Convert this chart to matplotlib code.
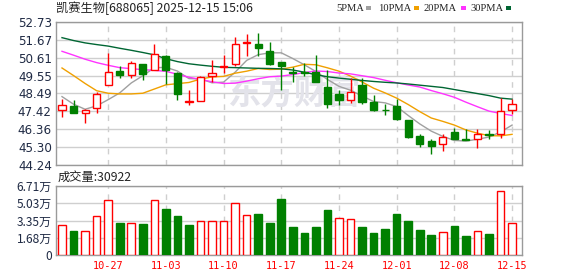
import numpy as np
import matplotlib.pyplot as plt
from matplotlib.patches import Rectangle

# ---------------------------------------------------------------
# 凯赛生物 daily K-line with MA lines and volume
# ---------------------------------------------------------------

dates = ['10-21', '10-22', '10-23', '10-24',
         '10-27', '10-28', '10-29', '10-30', '10-31',
         '11-03', '11-04', '11-05', '11-06', '11-07',
         '11-10', '11-11', '11-12', '11-13', '11-14',
         '11-17', '11-18', '11-19', '11-20', '11-21',
         '11-24', '11-25', '11-26', '11-27', '11-28',
         '12-01', '12-02', '12-03', '12-04', '12-05',
         '12-08', '12-09', '12-10', '12-11', '12-12',
         '12-15']

opens = [47.52, 47.74, 47.32, 47.60, 48.97, 49.82, 49.57, 50.24, 49.88, 50.74,
         49.69, 47.99, 48.02, 49.53, 50.06, 50.22, 51.50, 51.41, 51.02, 50.36,
         49.76, 49.75, 49.79, 48.87, 48.46, 48.08, 48.97, 47.96, 47.52, 47.72,
         46.91, 45.96, 45.66, 45.50, 46.19, 45.76, 45.76, 46.08, 46.06, 47.52]
highs = [48.14, 48.08, 47.56, 48.55, 50.86, 50.12, 50.42, 50.26, 51.43, 50.76,
         49.75, 48.67, 49.55, 50.46, 50.78, 51.81, 52.01, 52.05, 51.57, 50.36,
         50.08, 50.28, 50.80, 49.86, 48.70, 49.39, 49.39, 48.40, 47.88, 48.14,
         46.91, 46.11, 45.76, 46.06, 46.45, 46.35, 46.35, 46.31, 48.20, 48.18]
lows = [47.11, 47.32, 46.75, 47.34, 48.97, 49.43, 49.43, 49.29, 49.88, 49.07,
        48.08, 47.78, 48.02, 49.17, 49.73, 50.12, 50.72, 50.72, 50.20, 48.69,
        49.17, 49.53, 49.19, 47.64, 47.80, 47.94, 47.88, 47.44, 47.23, 46.89,
        45.82, 45.30, 44.90, 45.10, 45.78, 45.70, 45.26, 45.76, 45.86, 47.25]
closes = [47.78, 47.34, 47.48, 48.44, 49.77, 49.57, 50.28, 49.63, 50.82, 49.90,
          48.48, 48.04, 49.49, 49.69, 50.11, 51.41, 51.53, 51.21, 50.22, 50.14,
          49.69, 49.68, 49.19, 47.88, 48.08, 48.57, 47.98, 47.52, 47.48, 46.99,
          45.92, 45.50, 45.38, 45.92, 45.80, 45.70, 46.06, 46.04, 47.42, 47.84]

# volume in 万 (10k shares)
volumes = [2.92, 2.33, 2.33, 3.76, 5.32, 3.11, 3.11, 3.01, 5.32, 4.47,
           3.79, 2.92, 3.27, 3.27, 3.27, 5.03, 3.86, 4.02, 3.11, 5.45,
           2.72, 2.17, 2.72, 4.38, 3.57, 3.47, 2.72, 2.17, 2.53, 3.99,
           3.31, 2.43, 1.95, 2.24, 2.82, 1.85, 2.33, 2.04, 6.22, 3.09]

ma5 = [48.30, 47.85, 47.55, 47.75, 48.12, 48.52, 49.11, 49.54, 50.01, 50.04,
       49.82, 49.37, 49.35, 49.12, 49.16, 49.75, 50.45, 50.79, 50.90, 50.90,
       50.56, 50.19, 49.79, 49.32, 48.91, 48.68, 48.34, 48.01, 47.93, 47.71,
       47.18, 46.68, 46.25, 45.94, 45.70, 45.66, 45.77, 45.90, 46.20, 46.61]
ma10 = [50.00, 49.55, 49.08, 48.65, 48.50, 48.46, 48.46, 48.50, 48.75, 49.00,
        49.07, 49.14, 49.34, 49.47, 49.50, 49.69, 49.81, 49.97, 49.91, 49.93,
        50.05, 50.22, 50.19, 50.01, 49.81, 49.52, 49.17, 48.80, 48.52, 48.21,
        47.83, 47.41, 47.03, 46.83, 46.61, 46.32, 46.13, 45.98, 45.97, 46.06]
ma20 = [50.99, 50.76, 50.52, 50.32, 50.16, 50.02, 49.96, 49.90, 49.86, 49.80,
        49.63, 49.45, 49.32, 49.18, 49.08, 49.10, 49.22, 49.36, 49.48, 49.52,
        49.61, 49.73, 49.82, 49.79, 49.70, 49.65, 49.54, 49.43, 49.27, 49.12,
        48.99, 48.87, 48.66, 48.47, 48.26, 47.97, 47.70, 47.44, 47.30, 47.18]
ma30 = [51.80, 51.63, 51.49, 51.39, 51.30, 51.17, 51.05, 50.92, 50.78, 50.55,
        50.38, 50.25, 50.17, 50.10, 50.04, 50.02, 50.00, 49.98, 49.97, 49.95,
        49.88, 49.75, 49.60, 49.48, 49.40, 49.33, 49.26, 49.20, 49.15, 49.11,
        49.05, 48.98, 48.91, 48.84, 48.72, 48.60, 48.48, 48.36, 48.21, 48.15]

price_ticks = [44.24, 45.30, 46.36, 47.42, 48.49, 49.55, 50.61, 51.67, 52.73]
vol_ticks = [0, 1.68, 3.35, 5.03, 6.71]
vol_tick_labels = ['0', '1.68万', '3.35万', '5.03万', '6.71万']
date_labels = ['10-27', '11-03', '11-10', '11-17', '11-24', '12-01', '12-08', '12-15']

title = '凯赛生物[688065] 2025-12-15 15:06'
vol_title = '成交量:30922'
ma_names = ['5PMA', '10PMA', '20PMA', '30PMA']

RED = '#ff0000'
GREEN = '#008000'
MA_COLORS = ['#a0a0a0', '#f0a000', '#ff33ff', '#006633']
GRID = '#cfcfcf'
SPINE = '#9a9a9a'
LABEL = '#1f2a44'
CJK = ['Noto Sans CJK SC', 'DejaVu Sans']

W, H = 578, 276
fig = plt.figure(figsize=(W / 100, H / 100), dpi=100)


def px_axes(l, t, r, b):
    return fig.add_axes([l / W, 1 - b / H, (r - l) / W, (b - t) / H])


ax = px_axes(56, 22, 522, 165)
axv = px_axes(56, 186, 522, 255)

n = len(closes)
x = np.arange(n)
o = np.array(opens)
c = np.array(closes)
up = c >= o
vol_up = np.concatenate([[True], c[1:] >= c[:-1]])
monday = [i for i, d in enumerate(dates) if d in date_labels]
xlim = (-0.52, 39.86)

# ---- price panel ----
for p in price_ticks:
    ax.axhline(p, color=GRID, lw=1, zorder=0)
for i in monday:
    ax.axvline(i, color=GRID, lw=1, ls=(0, (4, 4)), zorder=0)

ax.text(0.51, 0.49, '东方财富', transform=ax.transAxes, ha='center', va='center',
        fontsize=24, fontweight='bold', style='italic', color='#e3e3ea',
        family=CJK, zorder=1)

for vals, col in zip([ma5, ma10, ma20, ma30], MA_COLORS):
    ax.plot(x, vals, color=col, lw=1, zorder=2)

cols = np.where(up, RED, GREEN)
ax.vlines(x, lows, highs, colors=cols, lw=1, zorder=3)
bottoms = np.minimum(o, c)
heights = np.maximum(np.abs(c - o), 0.03)
ax.bar(x, heights, 0.62, bottoms, facecolor=np.where(up, 'white', GREEN),
       edgecolor=cols, lw=1, zorder=4)

ax.set_xlim(xlim)
ax.set_ylim(price_ticks[0], price_ticks[-1])
ax.set_yticks(price_ticks)
ax.set_yticklabels(['%.2f' % p for p in price_ticks])
ax.set_xticks([])
ax.tick_params(axis='y', length=0, pad=3, labelsize=8.6, labelcolor=LABEL)

# ---- volume panel ----
for v in vol_ticks:
    axv.axhline(v, color=GRID, lw=1, zorder=0)
for i in monday:
    axv.axvline(i, color=GRID, lw=1, ls=(0, (4, 4)), zorder=0)

vcols = np.where(vol_up, RED, GREEN)
axv.bar(x, volumes, 0.66, facecolor=np.where(vol_up, 'white', GREEN),
        edgecolor=vcols, lw=1, zorder=3)
axv.set_xlim(xlim)
axv.set_ylim(0, vol_ticks[-1])
axv.set_yticks(vol_ticks)
axv.set_yticklabels(vol_tick_labels, family=CJK)
axv.set_xticks(monday)
axv.set_xticklabels([dates[i] for i in monday], family='DejaVu Sans Mono')
axv.tick_params(axis='y', length=0, pad=3, labelsize=8.6, labelcolor=LABEL)
axv.tick_params(axis='x', length=0, pad=4, labelsize=7.4, labelcolor=RED)

for a in (ax, axv):
    for s in a.spines.values():
        s.set_color(SPINE)
        s.set_linewidth(1)

# ---- header texts ----
fig.text(56 / W, 1 - 8 / H, title, fontsize=8.8, family=CJK, va='center', color='#222222')
fig.text(58 / W, 1 - 177 / H, vol_title, fontsize=8.8, family=CJK, va='center', color='#222222')

leg_x = [336, 378, 424, 470]
sq_x = [366, 414, 461, 506]
for name, col, lx, sx in zip(ma_names, MA_COLORS, leg_x, sq_x):
    fig.text(lx / W, 1 - 8.5 / H, name, fontsize=7.6, family='Liberation Serif',
             va='center', color='#222222')
    fig.add_artist(Rectangle((sx / W, 1 - 10 / H), 5 / W, 4 / H, transform=fig.transFigure,
                             facecolor=col, edgecolor='none'))

plt.savefig('out.png', dpi=100)
